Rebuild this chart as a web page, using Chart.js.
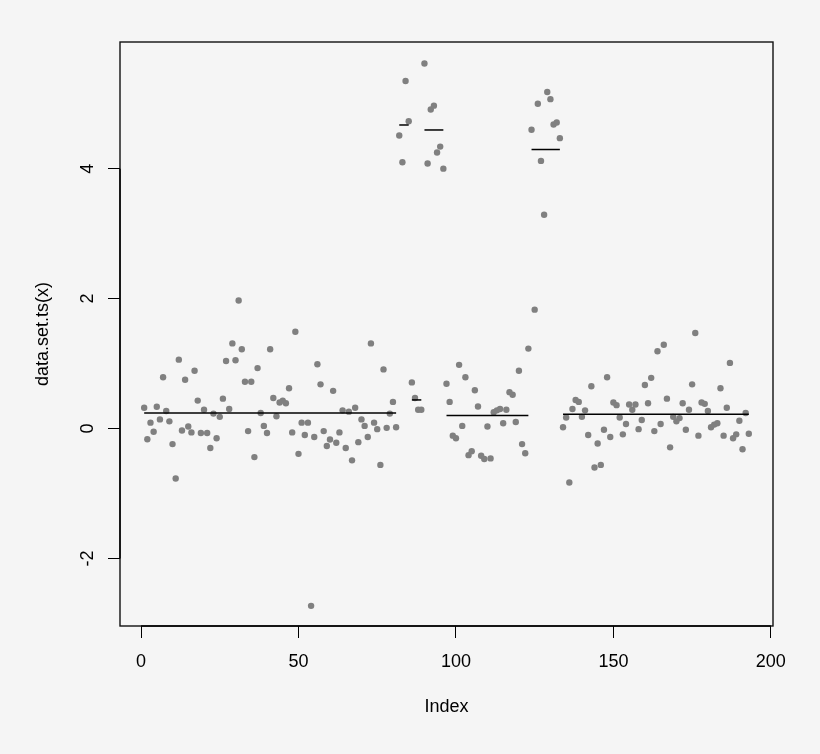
<!DOCTYPE html>
<html lang="en">
<head>
    <meta charset="UTF-8">
    <title>data.set.ts(x)</title>
    <script src="https://cdn.jsdelivr.net/npm/chart.js"></script>
    <style>
        body { margin: 0; background: #f5f5f5; }
        #wrap { width: 820px; height: 754px; position: relative; }
    </style>
</head>
<body>
    <div id="wrap"><canvas id="tsChart"></canvas></div>

    <script>
        // observed values, in index order (1..193)
        const values = [
            0.32, -0.165, 0.09, -0.05, 0.335, 0.14, 0.79, 0.27, 0.11, -0.24,
            -0.77, 1.06, -0.03, 0.75, 0.03, -0.06, 0.89, 0.43, -0.07, 0.29,
            -0.07, -0.30, 0.23, -0.15, 0.18, 0.46, 1.04, 0.30, 1.31, 1.05,
            1.97, 1.22, 0.72, -0.04, 0.72, -0.44, 0.93, 0.24, 0.04, -0.07,
            1.22, 0.47, 0.19, 0.40, 0.43, 0.39, 0.62, -0.06, 1.49, -0.39,
            0.09, -0.10, 0.09, -2.73, -0.13, 0.99, 0.68, -0.04, -0.27, -0.17,
            0.58, -0.22, -0.06, 0.28, -0.30, 0.26, -0.49, 0.32, -0.21, 0.14,
            0.04, -0.13, 1.31, 0.09, -0.01, -0.56, 0.91, 0.01, 0.23, 0.41,
            0.02, 4.51, 4.10, 5.35, 4.73, 0.71, 0.47, 0.29, 0.29, 5.62,
            4.08, 4.91, 4.97, 4.25, 4.34, 4.00, 0.69, 0.41, -0.11, -0.15,
            0.98, 0.04, 0.79, -0.41, -0.35, 0.59, 0.34, -0.42, -0.47, 0.03,
            -0.46, 0.25, 0.28, 0.30, 0.08, 0.29, 0.56, 0.52, 0.10, 0.89,
            -0.24, -0.38, 1.23, 4.60, 1.83, 5.00, 4.12, 3.29, 5.18, 5.07,
            4.68, 4.71, 4.47, 0.02, 0.17, -0.83, 0.30, 0.44, 0.41, 0.18,
            0.28, -0.10, 0.65, -0.60, -0.23, -0.56, -0.02, 0.79, -0.13, 0.40,
            0.36, 0.17, -0.09, 0.07, 0.37, 0.29, 0.37, -0.01, 0.13, 0.67,
            0.39, 0.78, -0.04, 1.19, 0.07, 1.29, 0.46, -0.29, 0.18, 0.11,
            0.16, 0.39, -0.02, 0.29, 0.68, 1.47, -0.11, 0.40, 0.38, 0.27,
            0.02, 0.06, 0.08, 0.62, -0.11, 0.32, 1.01, -0.15, -0.09, 0.12,
            -0.32, 0.24, -0.08
        ];

        // segments (first and last index) that get a mean line
        const segStart = [1, 82, 86, 90, 97, 124, 134];
        const segEnd = [81, 85, 89, 96, 123, 133, 193];

        const xTicks = [0, 50, 100, 150, 200];
        const yTicks = [-2, 0, 2, 4];

        const fontFamily = "'Liberation Sans', Arial, sans-serif";

        const points = values.map((v, i) => ({ x: i + 1, y: v }));

        const meanLines = segStart.map((s, k) => {
            const part = values.slice(s - 1, segEnd[k]);
            const m = part.reduce((a, b) => a + b, 0) / part.length;
            return {
                type: "line",
                data: [{ x: s, y: m }, { x: segEnd[k], y: m }],
                borderColor: "#000",
                borderWidth: 1.5,
                pointRadius: 0,
                fill: false,
                order: 0
            };
        });

        // box around the plot, axis lines and rotated y labels, R style
        const rFrame = {
            id: "rFrame",
            afterDraw(chart) {
                const ctx = chart.ctx;
                const a = chart.chartArea;
                const xs = chart.scales.x;
                const ys = chart.scales.y;
                ctx.save();
                ctx.strokeStyle = "#111";
                ctx.lineWidth = 1.4;
                ctx.strokeRect(a.left, a.top, a.right - a.left, a.bottom - a.top);

                ctx.strokeStyle = "#000";
                ctx.beginPath();
                ctx.moveTo(xs.getPixelForValue(xTicks[0]), a.bottom);
                ctx.lineTo(xs.getPixelForValue(xTicks[xTicks.length - 1]), a.bottom);
                ctx.moveTo(a.left, ys.getPixelForValue(yTicks[0]));
                ctx.lineTo(a.left, ys.getPixelForValue(yTicks[yTicks.length - 1]));
                ctx.stroke();

                ctx.fillStyle = "#000";
                ctx.font = "18px " + fontFamily;
                ctx.textAlign = "center";
                ctx.textBaseline = "alphabetic";
                yTicks.forEach((v) => {
                    ctx.save();
                    ctx.translate(92.5, ys.getPixelForValue(v));
                    ctx.rotate(-Math.PI / 2);
                    ctx.fillText(String(v), 0, 0);
                    ctx.restore();
                });
                ctx.restore();
            }
        };

        new Chart(document.getElementById("tsChart"), {
            type: "scatter",
            data: {
                datasets: [
                    ...meanLines,
                    {
                        data: points,
                        backgroundColor: "#808080",
                        borderWidth: 0,
                        pointRadius: 3.2,
                        order: 1
                    }
                ]
            },
            options: {
                responsive: true,
                maintainAspectRatio: false,
                animation: false,
                layout: { padding: { top: 42, right: 47, left: 0, bottom: 0 } },
                plugins: { legend: { display: false }, tooltip: { enabled: false } },
                scales: {
                    x: {
                        type: "linear",
                        position: "bottom",
                        min: -6.68,
                        max: 200.68,
                        afterBuildTicks: (s) => { s.ticks = xTicks.map((v) => ({ value: v })); },
                        afterFit: (s) => { s.height = 128; },
                        border: { display: false },
                        grid: { drawOnChartArea: false, drawTicks: true, tickLength: 12, color: "#000", lineWidth: 1 },
                        ticks: { color: "#000", padding: 13, maxRotation: 0, font: { family: fontFamily, size: 18 } },
                        title: {
                            display: true,
                            text: "Index",
                            color: "#000",
                            font: { family: fontFamily, size: 18 },
                            padding: { top: 0, bottom: 36 }
                        }
                    },
                    y: {
                        type: "linear",
                        position: "left",
                        min: -3.04,
                        max: 5.95,
                        afterBuildTicks: (s) => { s.ticks = yTicks.map((v) => ({ value: v })); },
                        afterFit: (s) => { s.width = 120; },
                        border: { display: false },
                        grid: { drawOnChartArea: false, drawTicks: true, tickLength: 12, color: "#000", lineWidth: 1 },
                        ticks: { display: false },
                        title: {
                            display: true,
                            text: "data.set.ts(x)",
                            color: "#000",
                            font: { family: fontFamily, size: 18 },
                            padding: { top: 32, bottom: 0 }
                        }
                    }
                }
            },
            plugins: [rFrame]
        });
    </script>
</body>
</html>
